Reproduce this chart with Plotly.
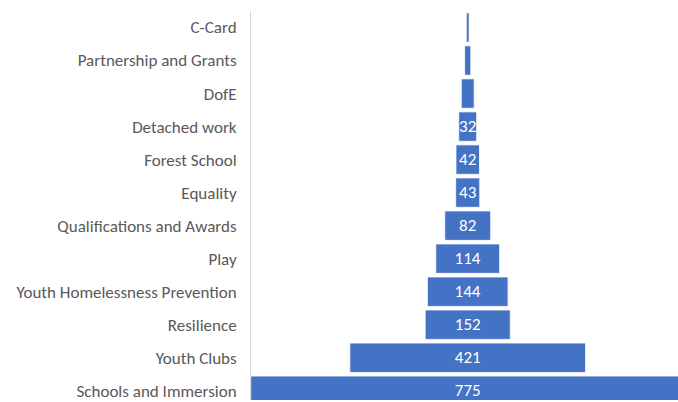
import plotly.graph_objects as go

categories = ["C-Card", "Partnership and Grants", "DofE", "Detached work", "Forest School",
              "Equality", "Qualifications and Awards", "Play", "Youth Homelessness Prevention",
              "Resilience", "Youth Clubs", "Schools and Immersion"]
values = [5, 11, 23, 32, 42, 43, 82, 114, 144, 152, 421, 775]
bar_labels = ["", "", "", "32", "42", "43", "82", "114", "144", "152", "421", "775"]

FONT = "Carlito, Calibri, Lato, sans-serif"

fig = go.Figure(go.Funnel(
    y=categories,
    x=values,
    text=bar_labels,
    textinfo="text",
    textposition="inside",
    insidetextanchor="middle",
    constraintext="none",
    textfont=dict(family=FONT, size=17, color="white"),
    marker=dict(color="#4472C4", line=dict(color="#ffffff", width=0.8)),
    connector=dict(visible=False),
    hoverinfo="x+y",
))

fig.update_layout(
    width=678, height=402,
    margin=dict(l=251, r=0, t=11, b=0),
    paper_bgcolor="white", plot_bgcolor="white",
    funnelgap=0.11,
    showlegend=False,
    xaxis=dict(range=[-387, 375.5], visible=False, fixedrange=True),
    yaxis=dict(range=[11.28, -0.5], showline=True, linecolor="#d9d9d9", linewidth=1,
               ticks="", ticklen=0, tickfont=dict(family=FONT, size=17, color="#595959"),
               showgrid=False, zeroline=False, fixedrange=True, ticklabelstandoff=10),
)

fig.write_html(
    "out.html",
    config={"displayModeBar": False},
    post_script="document.body.style.margin='0';document.body.style.overflow='hidden';",
)
